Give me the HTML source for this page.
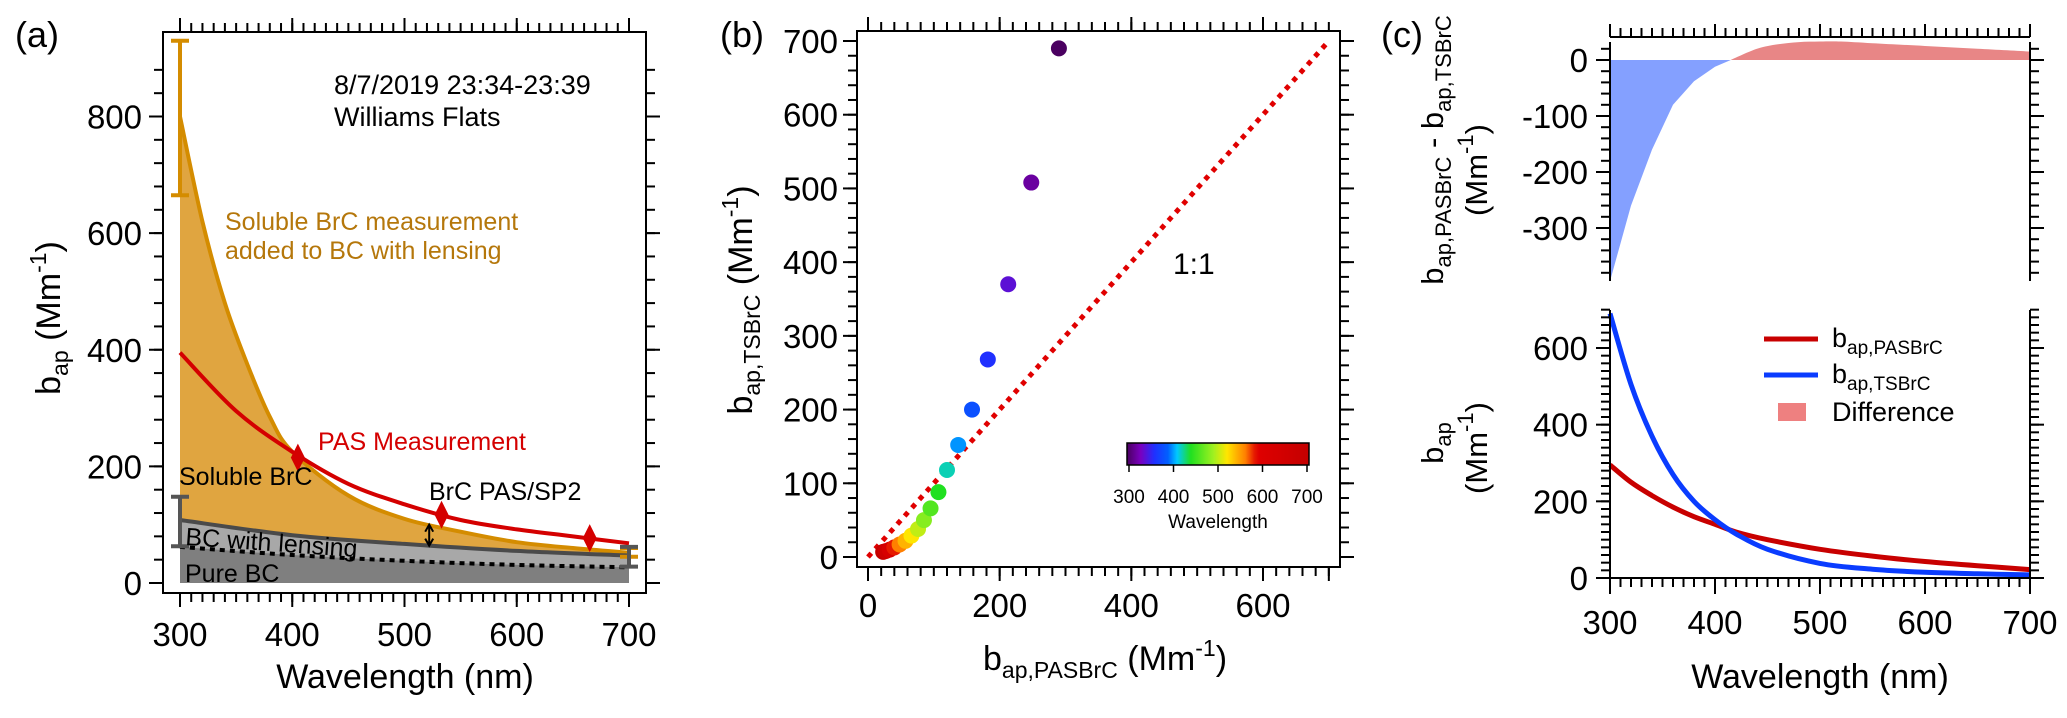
<!DOCTYPE html>
<html><head><meta charset="utf-8"><style>
html,body{margin:0;padding:0;background:#fff;}
svg{display:block;font-family:"Liberation Sans",sans-serif;}
</style></head><body>
<svg id="fig" width="2067" height="718" viewBox="0 0 2067 718" xmlns="http://www.w3.org/2000/svg"></svg>
<script>
// ---------- Panel (a) data ----------
const aWl = [300,320,340,360,380,400,450,500,550,600,650,700];
const aSolubleTop = [800,620,480,375,285,225,150,110,88,70,60,52];
const aPasWl = [300,350,400,450,500,550,600,650,700];
const aPas = [395,295,225,170,135,108,92,80,68];
const aBcWl = [300,400,500,600,700];
const aBcLens = [108,82,67,55,47];
const aPureBc = [62,48,38,31,27];
const aDiamondWl = [405,533,665];
const aDiamondVal = [215,117,77];
const aXTicks = [300,400,500,600,700];
const aYTicks = [0,200,400,600,800];
// ---------- Panel (b) data ----------
const bPas = [290,248,213,182,158,137,120,107,95,85,76,66,57,48,40,33,27,23];
const bTs = [690,508,370,268,200,152,118,88,66,50,38,29,22,17,13,10,8,7];
const bWl = [300,320,340,360,380,400,420,440,460,480,500,520,540,560,580,620,660,700];
const bXTicks = [0,200,400,600];
const bYTicks = [0,100,200,300,400,500,600,700];
const cbTicks = [300,400,500,600,700];
// ---------- Panel (c) data ----------
const cDiffWl = [300,320,340,360,380,400,415,440,460,480,500,520,550,600,650,700];
const cDiff = [-395,-260,-160,-80,-38,-12,0,20,28,32,33,33,30,25,20,15];
const cWl = [300,320,340,360,380,400,420,450,500,550,600,650,700];
const cPas = [295,250,215,185,160,140,120,100,75,57,43,32,22];
const cTs = [690,505,370,270,200,152,115,75,38,23,15,11,8];
const cXTicks = [300,400,500,600,700];
const cTopYTicks = [0,-100,-200,-300];
const cBotYTicks = [0,200,400,600];

const TF=33, AF=34, SF=23;
const NS="http://www.w3.org/2000/svg";
const svg=document.getElementById('fig');
function el(tag,attrs,parent,text){const e=document.createElementNS(NS,tag);for(const k in attrs)e.setAttribute(k,attrs[k]);if(text!==undefined)e.textContent=text;(parent||svg).appendChild(e);return e;}
function lin(d0,d1,p0,p1){return v=>p0+(v-d0)*(p1-p0)/(d1-d0);}
function pathOf(xs,ys,fx,fy){return xs.map((x,i)=>(i?'L':'M')+fx(x).toFixed(1)+','+fy(ys[i]).toFixed(1)).join('');}
function smooth(xs,ys,fx,fy){
  const p=xs.map((x,i)=>[fx(x),fy(ys[i])]);let d='M'+p[0][0]+','+p[0][1];
  for(let i=0;i<p.length-1;i++){const p0=p[i-1]||p[i],p1=p[i],p2=p[i+1],p3=p[i+2]||p2;
    d+='C'+(p1[0]+(p2[0]-p0[0])/6).toFixed(1)+','+(p1[1]+(p2[1]-p0[1])/6).toFixed(1)+' '+(p2[0]-(p3[0]-p1[0])/6).toFixed(1)+','+(p2[1]-(p3[1]-p1[1])/6).toFixed(1)+' '+p2[0].toFixed(1)+','+p2[1].toFixed(1);}
  return d;}
function minorTicks(g,fx,fy,d0,d1,step,orient,pos,len){
  for(let v=d0;v<=d1+1e-9;v+=step){
    if(orient==='x'){const x=fx(v);el('line',{x1:x,x2:x,y1:pos,y2:pos+len,stroke:'#000','stroke-width':2},g);}
    else {const y=fy(v);el('line',{x1:pos,x2:pos+len,y1:y,y2:y,stroke:'#000','stroke-width':2},g);}
  }}

// ================= Panel (a) =================
(function(){
  const g=el('g',{},svg);
  const fx=lin(300,700,180,629), fy=lin(0,800,583,116.5);
  const sf=el('path',{d:smooth(aWl,aSolubleTop,fx,fy)+'L'+fx(700)+','+fy(0)+'L'+fx(300)+','+fy(0)+'Z',fill:'#e0a540'},g);
  
  const lf=el('path',{d:smooth(aBcWl,aBcLens,fx,fy)+'L'+fx(700)+','+fy(0)+'L'+fx(300)+','+fy(0)+'Z',fill:'#a8a8a8'},g);
  
  const pf=el('path',{d:smooth(aBcWl,aPureBc,fx,fy)+'L'+fx(700)+','+fy(0)+'L'+fx(300)+','+fy(0)+'Z',fill:'#7f7f7f'},g);
  
  const sl=el('path',{d:smooth(aWl,aSolubleTop,fx,fy),fill:'none',stroke:'#d48c00','stroke-width':4},g);
  
  const bl=el('path',{d:smooth(aBcWl,aBcLens,fx,fy),fill:'none',stroke:'#4a4a4a','stroke-width':4},g);
  
  const pl=el('path',{d:smooth(aBcWl,aPureBc,fx,fy),fill:'none',stroke:'#000','stroke-width':4,'stroke-dasharray':'5,5'},g);
  
  const rl=el('path',{d:smooth(aPasWl,aPas,fx,fy),fill:'none',stroke:'#d40000','stroke-width':4},g);
  
  aDiamondWl.forEach((w,i)=>{const x=fx(w),y=fy(aDiamondVal[i]);
    const dm=el('path',{d:`M${x},${y-14}L${x+7},${y}L${x},${y+14}L${x-7},${y}Z`,fill:'#d40000'},g);
    });
  function eb(w,lo,hi,col,name){const x=fx(w);const e=el('path',{d:`M${x},${fy(lo)}V${fy(hi)}M${x-9},${fy(lo)}H${x+9}M${x-9},${fy(hi)}H${x+9}`,stroke:col,'stroke-width':4,fill:'none'},g);
    }
  eb(300,665,930,'#d48c00','soluble-error-bar-300');eb(300,63,148,'#555','bc-error-bar-300');
  eb(700,45,60,'#d48c00','soluble-error-bar-700');eb(700,28,62,'#555','bc-error-bar-700');
  const ax=fx(522);const ar=el('path',{d:`M${ax},${fy(100)}V${fy(64)}M${ax-4},${fy(100)+7}L${ax},${fy(100)}L${ax+4},${fy(100)+7}M${ax-4},${fy(64)-7}L${ax},${fy(64)}L${ax+4},${fy(64)-7}`,stroke:'#000','stroke-width':2,fill:'none'},g);
  
  const fr=el('rect',{x:163,y:32,width:483,height:561,fill:'none',stroke:'#000','stroke-width':2},g);
  
  minorTicks(g,fx,fy,300,700,10,'x',593,9);minorTicks(g,fx,fy,300,700,10,'x',23,9);
  aXTicks.forEach(v=>{el('line',{x1:fx(v),x2:fx(v),y1:593,y2:607,stroke:'#000','stroke-width':2},g);el('line',{x1:fx(v),x2:fx(v),y1:18,y2:32,stroke:'#000','stroke-width':2},g);
    const t=el('text',{x:fx(v),y:646,'font-size':TF,'text-anchor':'middle'},g,v);});
  minorTicks(g,fx,fy,0,900,40,'y',154,9);minorTicks(g,fx,fy,0,900,40,'y',646,9);
  aYTicks.forEach(v=>{el('line',{x1:149,x2:163,y1:fy(v),y2:fy(v),stroke:'#000','stroke-width':2},g);el('line',{x1:646,x2:660,y1:fy(v),y2:fy(v),stroke:'#000','stroke-width':2},g);
    const t=el('text',{x:142,y:fy(v)+12,'font-size':TF,'text-anchor':'end'},g,v);});
  const xt=el('text',{x:405,y:688,'font-size':AF,'text-anchor':'middle'},g,'Wavelength (nm)');
  const yt=el('text',{transform:'translate(60,318) rotate(-90)','font-size':AF,'text-anchor':'middle'},g);
  el('tspan',{},yt,'b');el('tspan',{'font-size':SF,dy:8},yt,'ap');el('tspan',{dy:-8},yt,' (Mm');el('tspan',{'font-size':SF,dy:-14},yt,'-1');el('tspan',{dy:14},yt,')');
  const lab=[['(a)',15,47,36,'#000','panel-label-a'],['8/7/2019 23:34-23:39',334,94,27,'#000','date-label'],['Williams Flats',334,126,27,'#000','site-label'],
    ['Soluble BrC measurement',225,230,25,'#b5770b','soluble-annotation-1'],['added to BC with lensing',225,259,25,'#b5770b','soluble-annotation-2'],
    ['PAS Measurement',318,450,25,'#d40000','pas-annotation'],['Soluble BrC',179,485,25,'#000','soluble-brc-label'],['BrC PAS/SP2',429,500,25,'#000','brc-pas-sp2-label'],
    ['Pure BC',185,582,25,'#000','pure-bc-label']];
  lab.forEach(l=>{const t=el('text',{x:l[1],y:l[2],'font-size':l[3],fill:l[4]},g,l[0]);});
  const bw=el('text',{x:185,y:545,'font-size':25,transform:'rotate(4 185 545)'},g,'BC with lensing');
})();

// ================= Panel (b) =================
function wlColor(w){
  const stops=[[300,[74,0,96]],[330,[122,0,192]],[360,[32,48,255]],[390,[0,96,255]],[410,[0,200,255]],[440,[32,224,32]],[490,[160,240,32]],[520,[255,230,0]],[560,[255,128,0]],[585,[224,0,0]],[700,[196,0,0]]];
  for(let i=0;i<stops.length-1;i++){const [a,ca]=stops[i],[b,cb]=stops[i+1];if(w<=b){const t=(w-a)/(b-a);return 'rgb('+ca.map((c,j)=>Math.round(c+(cb[j]-c)*t)).join(',')+')';}}
  return 'rgb(196,0,0)';}
(function(){
  const g=el('g',{},svg);
  const fx=lin(0,600,868,1263), fy=lin(0,700,557,41);
  const one=el('line',{x1:fx(0),y1:fy(0),x2:fx(700),y2:fy(700),stroke:'#e00000','stroke-width':5,'stroke-dasharray':'5,6'},g);
  
  for(let i=bPas.length-1;i>=0;i--){const c=el('circle',{cx:fx(bPas[i]),cy:fy(bTs[i]),r:8,fill:wlColor(bWl[i])},g);
    }
  const fr=el('rect',{x:857,y:31,width:483,height:536,fill:'none',stroke:'#000','stroke-width':2},g);
  
  minorTicks(g,fx,fy,0,700,20,'x',567,9);minorTicks(g,fx,fy,0,700,20,'x',22,9);
  bXTicks.forEach(v=>{el('line',{x1:fx(v),x2:fx(v),y1:567,y2:581,stroke:'#000','stroke-width':2},g);el('line',{x1:fx(v),x2:fx(v),y1:17,y2:31,stroke:'#000','stroke-width':2},g);
    const t=el('text',{x:fx(v),y:617,'font-size':TF,'text-anchor':'middle'},g,v);});
  el('line',{x1:fx(700),x2:fx(700),y1:567,y2:581,stroke:'#000','stroke-width':2},g);
  minorTicks(g,fx,fy,0,700,20,'y',848,9);minorTicks(g,fx,fy,0,700,20,'y',1340,9);
  bYTicks.forEach(v=>{el('line',{x1:843,x2:857,y1:fy(v),y2:fy(v),stroke:'#000','stroke-width':2},g);el('line',{x1:1340,x2:1354,y1:fy(v),y2:fy(v),stroke:'#000','stroke-width':2},g);
    const t=el('text',{x:838,y:fy(v)+12,'font-size':TF,'text-anchor':'end'},g,v);});
  const lb=el('text',{x:720,y:47,'font-size':36},g,'(b)');
  const oo=el('text',{x:1173,y:274,'font-size':30},g,'1:1');
  const xt=el('text',{x:1105,y:670,'font-size':AF,'text-anchor':'middle'},g);
  el('tspan',{},xt,'b');el('tspan',{'font-size':SF,dy:8},xt,'ap,PASBrC');el('tspan',{dy:-8},xt,' (Mm');el('tspan',{'font-size':SF,dy:-14},xt,'-1');el('tspan',{dy:14},xt,')');
  const yt=el('text',{transform:'translate(752,300) rotate(-90)','font-size':AF,'text-anchor':'middle'},g);
  el('tspan',{},yt,'b');el('tspan',{'font-size':SF,dy:8},yt,'ap,TSBrC');el('tspan',{dy:-8},yt,' (Mm');el('tspan',{'font-size':SF,dy:-14},yt,'-1');el('tspan',{dy:14},yt,')');
  const defs=el('defs',{},svg);const lg=el('linearGradient',{id:'cbg',x1:0,x2:1,y1:0,y2:0},defs);
  for(let w=300;w<=700;w+=10)el('stop',{offset:((w-300)/400).toFixed(3),'stop-color':wlColor(w)},lg);
  const cx=lin(300,700,1129,1307);
  const cb=el('rect',{x:1127,y:443,width:182,height:22,fill:'url(#cbg)',stroke:'#000','stroke-width':1.5},g);
  
  cbTicks.forEach(v=>{el('line',{x1:cx(v),x2:cx(v),y1:465,y2:472,stroke:'#000','stroke-width':1.5},g);
    const t=el('text',{x:cx(v),y:503,'font-size':19,'text-anchor':'middle'},g,v);});
  const ct=el('text',{x:1218,y:528,'font-size':19,'text-anchor':'middle'},g,'Wavelength');
})();

// ================= Panel (c) =================
(function(){
  const g=el('g',{},svg);
  const fx=lin(300,700,1610,2030);
  const fyT=lin(0,-300,60,228);
  const zi=cDiff.findIndex(v=>v>=0);
  const negX=cDiffWl.slice(0,zi+1),negY=cDiff.slice(0,zi+1),posX=cDiffWl.slice(zi),posY=cDiff.slice(zi);
  const nf=el('path',{d:pathOf(negX,negY,fx,fyT)+'L'+fx(300)+','+fyT(0)+'Z',fill:'#84a0ff'},g);
  
  const pf=el('path',{d:smooth(posX,posY,fx,fyT)+'L'+fx(700)+','+fyT(0)+'L'+fx(posX[0])+','+fyT(0)+'Z',fill:'#e88686'},g);
  
  el('line',{x1:1610,x2:1610,y1:42,y2:281,stroke:'#000','stroke-width':2},g);
  el('line',{x1:2030,x2:2030,y1:42,y2:281,stroke:'#000','stroke-width':2},g);
  el('line',{x1:1610,x2:2030,y1:37,y2:37,stroke:'#000','stroke-width':2},g);
  minorTicks(g,fx,fyT,300,700,10,'x',28,9);
  cXTicks.forEach(v=>el('line',{x1:fx(v),x2:fx(v),y1:24,y2:37,stroke:'#000','stroke-width':2},g));
  minorTicks(g,fx,fyT,-380,20,20,'y',1601,9);minorTicks(g,fx,fyT,-380,20,20,'y',2030,9);
  cTopYTicks.forEach(v=>{el('line',{x1:1596,x2:1610,y1:fyT(v),y2:fyT(v),stroke:'#000','stroke-width':2},g);el('line',{x1:2030,x2:2044,y1:fyT(v),y2:fyT(v),stroke:'#000','stroke-width':2},g);
    const t=el('text',{x:1588,y:fyT(v)+12,'font-size':TF,'text-anchor':'end'},g,v);});
  const yt1=el('text',{transform:'translate(1443,150) rotate(-90)','font-size':31,'text-anchor':'middle'},g);
  el('tspan',{},yt1,'b');el('tspan',{'font-size':22,dy:8},yt1,'ap,PASBrC');el('tspan',{dy:-8},yt1,' - b');el('tspan',{'font-size':22,dy:8},yt1,'ap,TSBrC');
  const yt2=el('text',{transform:'translate(1487,170) rotate(-90)','font-size':31,'text-anchor':'middle'},g);
  el('tspan',{},yt2,'(Mm');el('tspan',{'font-size':22,dy:-14},yt2,'-1');el('tspan',{dy:14},yt2,')');
  const lb=el('text',{x:1381,y:47,'font-size':36},g,'(c)');
  const fyB=lin(0,600,578,348);
  const pl=el('path',{d:smooth(cWl,cPas,fx,fyB),fill:'none',stroke:'#c80000','stroke-width':5},g);
  
  const tl=el('path',{d:smooth(cWl,cTs,fx,fyB),fill:'none',stroke:'#0a3cff','stroke-width':5},g);
  
  el('line',{x1:1610,x2:1610,y1:310,y2:590,stroke:'#000','stroke-width':2},g);
  el('line',{x1:2030,x2:2030,y1:310,y2:590,stroke:'#000','stroke-width':2},g);
  el('line',{x1:1610,x2:2030,y1:578,y2:578,stroke:'#000','stroke-width':2},g);
  minorTicks(g,fx,fyB,300,700,10,'x',578,9);
  cXTicks.forEach(v=>{el('line',{x1:fx(v),x2:fx(v),y1:578,y2:594,stroke:'#000','stroke-width':2},g);
    const t=el('text',{x:fx(v),y:634,'font-size':TF,'text-anchor':'middle'},g,v);});
  minorTicks(g,fx,fyB,0,700,20,'y',1601,9);minorTicks(g,fx,fyB,0,700,20,'y',2030,9);
  cBotYTicks.forEach(v=>{el('line',{x1:1596,x2:1610,y1:fyB(v),y2:fyB(v),stroke:'#000','stroke-width':2},g);el('line',{x1:2030,x2:2044,y1:fyB(v),y2:fyB(v),stroke:'#000','stroke-width':2},g);
    const t=el('text',{x:1588,y:fyB(v)+12,'font-size':TF,'text-anchor':'end'},g,v);});
  const yb1=el('text',{transform:'translate(1443,443) rotate(-90)','font-size':31,'text-anchor':'middle'},g);
  el('tspan',{},yb1,'b');el('tspan',{'font-size':22,dy:8},yb1,'ap');
  const yb2=el('text',{transform:'translate(1487,448) rotate(-90)','font-size':31,'text-anchor':'middle'},g);
  el('tspan',{},yb2,'(Mm');el('tspan',{'font-size':22,dy:-14},yb2,'-1');el('tspan',{dy:14},yb2,')');
  const xt=el('text',{x:1820,y:688,'font-size':AF,'text-anchor':'middle'},g,'Wavelength (nm)');
  const lg=el('g',{},g);
  el('line',{x1:1764,x2:1818,y1:339,y2:339,stroke:'#c80000','stroke-width':5},lg);
  const t1=el('text',{x:1832,y:347,'font-size':27},lg);
  el('tspan',{},t1,'b');el('tspan',{'font-size':19,dy:7},t1,'ap,PASBrC');
  el('line',{x1:1764,x2:1818,y1:375,y2:375,stroke:'#0a3cff','stroke-width':5},lg);
  const t2=el('text',{x:1832,y:383,'font-size':27},lg);
  el('tspan',{},t2,'b');el('tspan',{'font-size':19,dy:7},t2,'ap,TSBrC');
  el('rect',{x:1778,y:403,width:28,height:18,fill:'#ee8080'},lg);
  const t3=el('text',{x:1832,y:421,'font-size':27},lg,'Difference');
})();
</script>
</body></html>
